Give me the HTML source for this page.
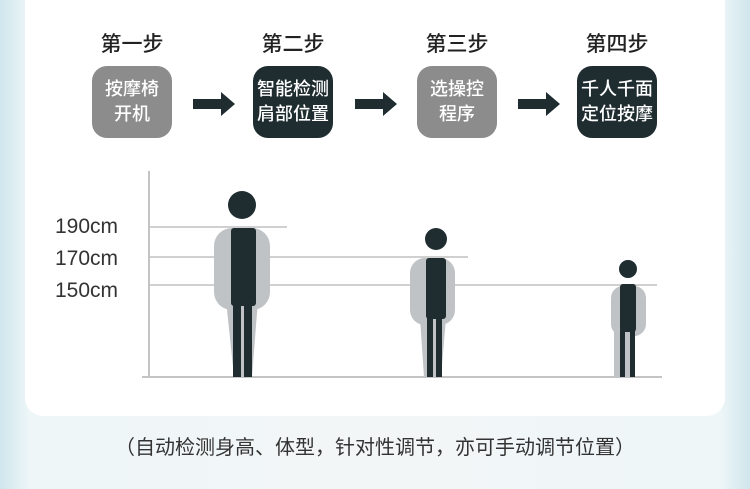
<!DOCTYPE html>
<html><head><meta charset="utf-8"><style>
body{margin:0;width:750px;height:489px;overflow:hidden;background:linear-gradient(90deg,#cfe6ec 0%,#eef6f8 4%,#f3f6f7 50%,#eef6f8 96%,#cfe6ec 100%);font-family:"Liberation Sans","Noto Sans CJK SC",sans-serif;position:relative}
.card{position:absolute;left:25px;top:-20px;width:700px;height:436px;background:#fff;border-radius:18px}
.lbl{position:absolute;top:28px;width:100px;text-align:center;font-size:21px;font-weight:500;color:#222}
.box{position:absolute;top:66px;width:80px;height:72px;border-radius:15px;color:#fff;font-size:18px;font-weight:500;line-height:25px;display:flex;align-items:center;justify-content:center;text-align:center}
.g{background:#8c8c8c}.d{background:#1f2d31}
.cap{position:absolute;top:431px;left:0;width:750px;text-align:center;font-size:20px;color:#333}
.yl{position:absolute;left:55px;font-size:21px;color:#333}
</style></head><body>
<div class="card"></div>
<div class="lbl" style="left:82px">第一步</div>
<div class="lbl" style="left:243px">第二步</div>
<div class="lbl" style="left:407px">第三步</div>
<div class="lbl" style="left:567px">第四步</div>
<div class="box g" style="left:92px">按摩椅<br>开机</div>
<div class="box d" style="left:253px">智能检测<br>肩部位置</div>
<div class="box g" style="left:417px">选操控<br>程序</div>
<div class="box d" style="left:577px">千人千面<br>定位按摩</div>
<svg width="750" height="489" style="position:absolute;left:0;top:0">
<g fill="#1f2d31">
<polygon points="193,99 221,99 221,92 235,104 221,116 221,109 193,109"/>
<polygon points="355,99 383,99 383,92 397,104 383,116 383,109 355,109"/>
<polygon points="518,99 546,99 546,92 560,104 546,116 546,109 518,109"/>
</g>
<g stroke="#d0d0d0" stroke-width="2">
<line x1="149" y1="227" x2="287" y2="227"/>
<line x1="149" y1="257" x2="468" y2="257"/>
<line x1="149" y1="285" x2="657" y2="285"/>
</g>
<g stroke="#c4c4c4" stroke-width="2">
<line x1="149" y1="171" x2="149" y2="377"/>
<line x1="142" y1="377" x2="662" y2="377"/>
</g>
<rect x="214" y="228" width="56" height="82" rx="18" fill="#bfc3c5"/>
<polygon points="226,300 258,300 252,377 234,377" fill="#bfc3c5"/>
<circle cx="242" cy="205" r="14" fill="#1f2d31"/>
<rect x="231" y="228" width="25" height="78" rx="3" fill="#1f2d31"/>
<rect x="233" y="300" width="8" height="77" fill="#1f2d31"/>
<rect x="244" y="300" width="8" height="77" fill="#1f2d31"/>
<rect x="410" y="258" width="45" height="67" rx="15" fill="#bfc3c5"/>
<polygon points="420,318 446,318 441,377 424,377" fill="#bfc3c5"/>
<circle cx="436" cy="239" r="11" fill="#1f2d31"/>
<rect x="426" y="258" width="20" height="61" rx="3" fill="#1f2d31"/>
<rect x="427" y="315" width="6" height="62" fill="#1f2d31"/>
<rect x="436" y="315" width="6" height="62" fill="#1f2d31"/>
<rect x="611" y="286" width="35" height="50" rx="12" fill="#bfc3c5"/>
<rect x="614" y="330" width="18" height="47" fill="#bfc3c5"/>
<circle cx="628" cy="269" r="9" fill="#1f2d31"/>
<rect x="620" y="284" width="16" height="48" rx="3" fill="#1f2d31"/>
<rect x="620" y="330" width="5" height="47" fill="#1f2d31"/>
<rect x="630" y="330" width="5" height="47" fill="#1f2d31"/>
</svg>
<div class="yl" style="top:215px">190cm</div>
<div class="yl" style="top:247px">170cm</div>
<div class="yl" style="top:279px">150cm</div>
<div class="cap">（自动检测身高、体型，针对性调节，亦可手动调节位置）</div>
</body></html>
